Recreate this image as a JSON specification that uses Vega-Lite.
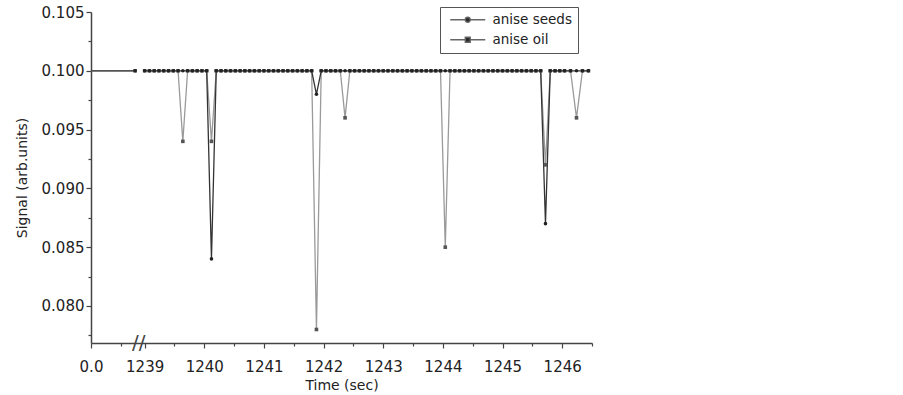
{
 "$schema": "https://vega.github.io/schema/vega-lite/v6.json",
 "width": 501, "height": 331,
 "autosize": {"type": "none"},
 "padding": {"left": 91, "top": 12, "right": 311, "bottom": 52},
 "background": "white",
 "config": {"view": {"stroke": null}, "font": "DejaVu Sans"},
 "datasets": {"sig": [
  {"t": 0, "anise seeds": 0.1, "anise oil": 0.1},
  {"t": 0.74, "anise seeds": 0.1, "anise oil": 0.1},
  {"t": 1239.00, "anise seeds": 0.1, "anise oil": 0.1},
  {"t": 1239.08, "anise seeds": 0.1, "anise oil": 0.1},
  {"t": 1239.16, "anise seeds": 0.1, "anise oil": 0.1},
  {"t": 1239.24, "anise seeds": 0.1, "anise oil": 0.1},
  {"t": 1239.32, "anise seeds": 0.1, "anise oil": 0.1},
  {"t": 1239.40, "anise seeds": 0.1, "anise oil": 0.1},
  {"t": 1239.48, "anise seeds": 0.1, "anise oil": 0.1},
  {"t": 1239.56, "anise seeds": 0.1, "anise oil": 0.1},
  {"t": 1239.64, "anise seeds": 0.1, "anise oil": 0.094},
  {"t": 1239.72, "anise seeds": 0.1, "anise oil": 0.1},
  {"t": 1239.80, "anise seeds": 0.1, "anise oil": 0.1},
  {"t": 1239.88, "anise seeds": 0.1, "anise oil": 0.1},
  {"t": 1239.96, "anise seeds": 0.1, "anise oil": 0.1},
  {"t": 1240.04, "anise seeds": 0.1, "anise oil": 0.1},
  {"t": 1240.12, "anise seeds": 0.084, "anise oil": 0.094},
  {"t": 1240.20, "anise seeds": 0.1, "anise oil": 0.1},
  {"t": 1240.28, "anise seeds": 0.1, "anise oil": 0.1},
  {"t": 1240.36, "anise seeds": 0.1, "anise oil": 0.1},
  {"t": 1240.44, "anise seeds": 0.1, "anise oil": 0.1},
  {"t": 1240.52, "anise seeds": 0.1, "anise oil": 0.1},
  {"t": 1240.60, "anise seeds": 0.1, "anise oil": 0.1},
  {"t": 1240.68, "anise seeds": 0.1, "anise oil": 0.1},
  {"t": 1240.76, "anise seeds": 0.1, "anise oil": 0.1},
  {"t": 1240.84, "anise seeds": 0.1, "anise oil": 0.1},
  {"t": 1240.92, "anise seeds": 0.1, "anise oil": 0.1},
  {"t": 1241.00, "anise seeds": 0.1, "anise oil": 0.1},
  {"t": 1241.08, "anise seeds": 0.1, "anise oil": 0.1},
  {"t": 1241.16, "anise seeds": 0.1, "anise oil": 0.1},
  {"t": 1241.24, "anise seeds": 0.1, "anise oil": 0.1},
  {"t": 1241.32, "anise seeds": 0.1, "anise oil": 0.1},
  {"t": 1241.40, "anise seeds": 0.1, "anise oil": 0.1},
  {"t": 1241.48, "anise seeds": 0.1, "anise oil": 0.1},
  {"t": 1241.56, "anise seeds": 0.1, "anise oil": 0.1},
  {"t": 1241.64, "anise seeds": 0.1, "anise oil": 0.1},
  {"t": 1241.72, "anise seeds": 0.1, "anise oil": 0.1},
  {"t": 1241.80, "anise seeds": 0.1, "anise oil": 0.1},
  {"t": 1241.88, "anise seeds": 0.098, "anise oil": 0.078},
  {"t": 1241.96, "anise seeds": 0.1, "anise oil": 0.1},
  {"t": 1242.04, "anise seeds": 0.1, "anise oil": 0.1},
  {"t": 1242.12, "anise seeds": 0.1, "anise oil": 0.1},
  {"t": 1242.20, "anise seeds": 0.1, "anise oil": 0.1},
  {"t": 1242.28, "anise seeds": 0.1, "anise oil": 0.1},
  {"t": 1242.36, "anise seeds": 0.1, "anise oil": 0.096},
  {"t": 1242.44, "anise seeds": 0.1, "anise oil": 0.1},
  {"t": 1242.52, "anise seeds": 0.1, "anise oil": 0.1},
  {"t": 1242.60, "anise seeds": 0.1, "anise oil": 0.1},
  {"t": 1242.68, "anise seeds": 0.1, "anise oil": 0.1},
  {"t": 1242.76, "anise seeds": 0.1, "anise oil": 0.1},
  {"t": 1242.84, "anise seeds": 0.1, "anise oil": 0.1},
  {"t": 1242.92, "anise seeds": 0.1, "anise oil": 0.1},
  {"t": 1243.00, "anise seeds": 0.1, "anise oil": 0.1},
  {"t": 1243.08, "anise seeds": 0.1, "anise oil": 0.1},
  {"t": 1243.16, "anise seeds": 0.1, "anise oil": 0.1},
  {"t": 1243.24, "anise seeds": 0.1, "anise oil": 0.1},
  {"t": 1243.32, "anise seeds": 0.1, "anise oil": 0.1},
  {"t": 1243.40, "anise seeds": 0.1, "anise oil": 0.1},
  {"t": 1243.48, "anise seeds": 0.1, "anise oil": 0.1},
  {"t": 1243.56, "anise seeds": 0.1, "anise oil": 0.1},
  {"t": 1243.64, "anise seeds": 0.1, "anise oil": 0.1},
  {"t": 1243.72, "anise seeds": 0.1, "anise oil": 0.1},
  {"t": 1243.80, "anise seeds": 0.1, "anise oil": 0.1},
  {"t": 1243.88, "anise seeds": 0.1, "anise oil": 0.1},
  {"t": 1243.96, "anise seeds": 0.1, "anise oil": 0.1},
  {"t": 1244.04, "anise seeds": 0.1, "anise oil": 0.085},
  {"t": 1244.12, "anise seeds": 0.1, "anise oil": 0.1},
  {"t": 1244.20, "anise seeds": 0.1, "anise oil": 0.1},
  {"t": 1244.28, "anise seeds": 0.1, "anise oil": 0.1},
  {"t": 1244.36, "anise seeds": 0.1, "anise oil": 0.1},
  {"t": 1244.44, "anise seeds": 0.1, "anise oil": 0.1},
  {"t": 1244.52, "anise seeds": 0.1, "anise oil": 0.1},
  {"t": 1244.60, "anise seeds": 0.1, "anise oil": 0.1},
  {"t": 1244.68, "anise seeds": 0.1, "anise oil": 0.1},
  {"t": 1244.76, "anise seeds": 0.1, "anise oil": 0.1},
  {"t": 1244.84, "anise seeds": 0.1, "anise oil": 0.1},
  {"t": 1244.92, "anise seeds": 0.1, "anise oil": 0.1},
  {"t": 1245.00, "anise seeds": 0.1, "anise oil": 0.1},
  {"t": 1245.08, "anise seeds": 0.1, "anise oil": 0.1},
  {"t": 1245.16, "anise seeds": 0.1, "anise oil": 0.1},
  {"t": 1245.24, "anise seeds": 0.1, "anise oil": 0.1},
  {"t": 1245.32, "anise seeds": 0.1, "anise oil": 0.1},
  {"t": 1245.40, "anise seeds": 0.1, "anise oil": 0.1},
  {"t": 1245.48, "anise seeds": 0.1, "anise oil": 0.1},
  {"t": 1245.56, "anise seeds": 0.1, "anise oil": 0.1},
  {"t": 1245.64, "anise seeds": 0.1, "anise oil": 0.1},
  {"t": 1245.72, "anise seeds": 0.087, "anise oil": 0.092},
  {"t": 1245.80, "anise seeds": 0.1, "anise oil": 0.1},
  {"t": 1245.88, "anise seeds": 0.1, "anise oil": 0.1},
  {"t": 1245.96, "anise seeds": 0.1, "anise oil": 0.1},
  {"t": 1246.04, "anise seeds": 0.1, "anise oil": 0.1},
  {"t": 1246.14, "anise seeds": 0.1, "anise oil": 0.1},
  {"t": 1246.24, "anise seeds": 0.1, "anise oil": 0.096},
  {"t": 1246.34, "anise seeds": 0.1, "anise oil": 0.1},
  {"t": 1246.44, "anise seeds": 0.1, "anise oil": 0.1}
 ]},
 "encoding": {
  "x": {"field": "t", "type": "quantitative",
   "scale": {"domain": [0, 0.8, 1238.9, 1246.5], "range": [0, 47.7, 47.7, 501], "nice": false, "zero": false},
   "axis": {"title": "Time (sec)",
    "values": [0, 0.5, 1239, 1239.5, 1240, 1240.5, 1241, 1241.5, 1242, 1242.5, 1243, 1243.5, 1244, 1244.5, 1245, 1245.5, 1246, 1246.5],
    "labelExpr": "datum.value == 0 ? '0.0' : (datum.value % 1 == 0 ? format(datum.value, 'd') : '')",
    "labelFlush": false, "labelOverlap": false, "grid": false,
    "tickSize": {"condition": {"test": "datum.value % 1 == 0", "value": 5}, "value": 3},
    "domainColor": "#444", "tickColor": "#444", "domainWidth": 1.5, "tickWidth": 1.2,
    "labelFont": "DejaVu Sans", "labelFontSize": 15, "labelColor": "#222", "labelPadding": 11,
    "titleFont": "DejaVu Sans", "titleFontSize": 14, "titleFontWeight": "normal", "titleColor": "#222", "titlePadding": 4}},
  "y": {"field": "signal", "type": "quantitative",
   "scale": {"domain": [0.07685, 0.105], "nice": false, "zero": false},
   "axis": {"title": "Signal (arb.units)",
    "values": [0.0775, 0.08, 0.0825, 0.085, 0.0875, 0.09, 0.0925, 0.095, 0.0975, 0.1, 0.1025, 0.105],
    "labelExpr": "abs(datum.value*200 - round(datum.value*200)) < 0.01 ? format(datum.value, '.3f') : ''",
    "labelOverlap": false, "grid": false,
    "tickSize": {"condition": {"test": "abs(datum.value*200 - round(datum.value*200)) < 0.01", "value": 5}, "value": 3},
    "domainColor": "#444", "tickColor": "#444", "domainWidth": 1.5, "tickWidth": 1.2,
    "labelFont": "DejaVu Sans", "labelFontSize": 15, "labelColor": "#222", "labelPadding": 2,
    "titleFont": "DejaVu Sans", "titleFontSize": 14, "titleFontWeight": "normal", "titleColor": "#222", "titlePadding": 12}}
 },
 "resolve": {"scale": {"shape": "independent"}},
 "layer": [
  {"data": {"name": "sig"},
   "transform": [{"filter": "datum.t > 1"}, {"fold": ["anise oil", "anise seeds"], "as": ["series", "signal"]}],
   "mark": {"type": "line", "strokeWidth": 1.3},
   "encoding": {"stroke": {"field": "series", "type": "nominal", "scale": {"domain": ["anise oil", "anise seeds"], "range": ["#9a9a9a", "#333333"]}, "legend": null}}},
  {"data": {"name": "sig"},
   "transform": [{"filter": "datum.t < 1"}, {"fold": ["anise oil", "anise seeds"], "as": ["series", "signal"]}],
   "mark": {"type": "line", "strokeWidth": 1.3},
   "encoding": {"stroke": {"field": "series", "type": "nominal", "scale": {"domain": ["anise oil", "anise seeds"], "range": ["#9a9a9a", "#333333"]}, "legend": null}}},
  {"data": {"name": "sig"},
   "transform": [{"filter": "datum.t > 0"}, {"fold": ["anise oil", "anise seeds"], "as": ["series", "signal"]}],
   "mark": {"type": "point", "filled": true, "size": 13, "opacity": 1},
   "encoding": {
    "fill": {"field": "series", "type": "nominal", "scale": {"domain": ["anise oil", "anise seeds"], "range": ["#555555", "#222222"]}, "legend": null},
    "shape": {"field": "series", "type": "nominal", "scale": {"domain": ["anise oil", "anise seeds"], "range": ["square", "circle"]}, "legend": null}}},
  {"data": {"name": "sig"},
   "transform": [{"filter": "datum.t > 1239.5 && datum.t < 1239.6"}, {"fold": ["anise seeds", "anise oil"], "as": ["series", "signal"]}],
   "mark": {"type": "point", "filled": false, "fill": "#2a2a2a", "stroke": "#666666", "opacity": 0, "size": 25},
   "encoding": {
    "shape": {"field": "series", "type": "nominal",
     "scale": {"domain": ["anise seeds", "anise oil"], "range": ["M-7,0H-1.2M1.2,0H7M1,0A1,1,0,1,1,-1,0A1,1,0,1,1,1,0Z", "M-7,0H-1.2M1.2,0H7M-1,-1H1V1H-1Z"]},
     "legend": {"title": null, "orient": "none", "legendX": 349, "legendY": -5,
      "strokeColor": "#555", "fillColor": "white", "padding": 6, "rowPadding": 5,
      "symbolSize": 25, "symbolOffset": 15, "labelOffset": 18,
      "symbolStrokeWidth": 1.3, "symbolOpacity": 1,
      "labelFont": "DejaVu Sans", "labelFontSize": 13.5, "labelColor": "#222",
      "labelExpr": "datum.label + '\u00a0\u00a0\u00a0\u00a0\u00a0\u00a0\u00a0\u00a0\u00a0\u00a0\u00a0\u00a0\u00a0\u00a0\u00a0\u00a0'"}}}},
  {"data": {"values": [{"t": 0.8, "signal": 0.07685}]},
   "mark": {"type": "text", "text": "//", "font": "DejaVu Sans", "fontSize": 20, "color": "#444", "align": "center", "baseline": "middle"}}
 ]
}
